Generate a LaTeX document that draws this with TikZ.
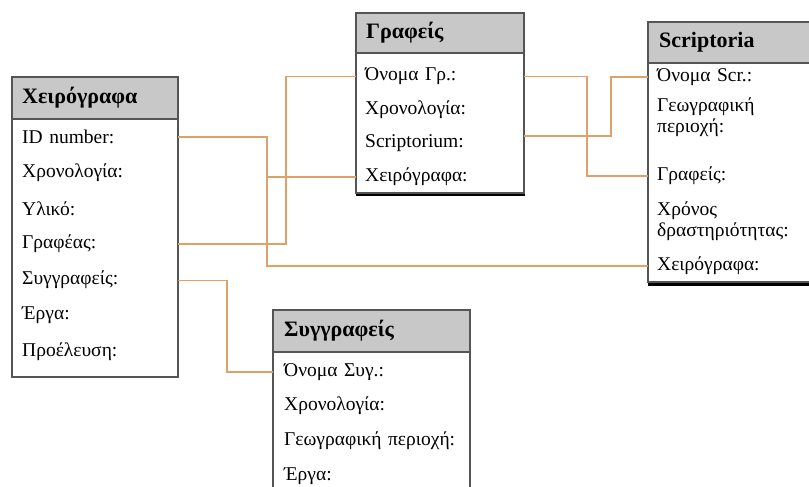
\documentclass[tikz,border=0pt]{standalone}
\usepackage{fontspec}
\setmainfont{Liberation Serif}
\definecolor{linkcol}{RGB}{222,162,104}
\definecolor{headgray}{RGB}{200,200,200}
\definecolor{framegray}{RGB}{85,85,85}

\begin{document}
\begin{tikzpicture}[x=1pt, y=-1pt,
    frame/.style={draw=framegray, line width=1.3pt},
    head/.style={anchor=west, inner sep=0pt, font=\fontsize{22}{24}\selectfont\bfseries},
    field/.style={anchor=west, inner ysep=0pt, align=left, text width=#1,
        font=\fontsize{19.5}{21.5}\selectfont},
    link/.style={draw=linkcol, line width=1.2pt}]

    \useasboundingbox (0,0) rectangle (809,487);

    % Table Xeirografa
    \draw[frame, fill=white] (12,77) rectangle (178,377);
    \draw[frame, fill=headgray] (12,77) rectangle (178,119);
    \node[head] (xhead) at (22,98) {Χειρόγραφα};
    \node[field=146, inner xsep=10pt] (xid) at (12,137) {ID number:};
    \node[field=146, inner xsep=10pt] (xch) at (12,172.7) {Χρονολογία:};
    \node[field=146, inner xsep=10pt] (xyl) at (12,208.4) {Υλικό:};
    \node[field=146, inner xsep=10pt] (xgr) at (12,244) {Γραφέας:};
    \node[field=146, inner xsep=10pt] (xsy) at (12,279.8) {Συγγραφείς:};
    \node[field=146, inner xsep=10pt] (xer) at (12,315.5) {Έργα:};
    \node[field=146, inner xsep=10pt] (xpr) at (12,351.2) {Προέλευση:};

    % Table Grafeis
    \fill[black] (356,192) rectangle (525,196);
    \draw[frame, fill=white] (356,13) rectangle (524,193);
    \draw[frame, fill=headgray] (356,13) rectangle (524,53);
    \node[head] (ghead) at (366,33) {Γραφείς};
    \node[field=150, inner xsep=9pt] (gon) at (356,76.5) {Όνομα Γρ.:};
    \node[field=150, inner xsep=9pt] (gch) at (356,110) {Χρονολογία:};
    \node[field=150, inner xsep=9pt] (gsc) at (356,143) {Scriptorium:};
    \node[field=150, inner xsep=9pt] (gcx) at (356,177) {Χειρόγραφα:};

    % Table Scriptoria
    \fill[black] (648,282) rectangle (812,286);
    \draw[frame, fill=white] (648,22) rectangle (812,282);
    \draw[frame, fill=headgray] (648,22) rectangle (812,63);
    \node[head] (shead) at (659,42) {Scriptoria};
    \node[field=146, inner xsep=9pt] (son) at (648,77) {Όνομα Scr.:};
    \node[field=146, inner xsep=9pt] (sge) at (648,117) {Γεωγραφική\\περιοχή:};
    \node[field=146, inner xsep=9pt] (sgr) at (648,176) {Γραφείς:};
    \node[field=146, inner xsep=9pt] (srx) at (648,221) {Χρόνος\\δραστηριότητας:};
    \node[field=146, inner xsep=9pt] (scx) at (648,266) {Χειρόγραφα:};

    % Table Syggrafeis
    \draw[frame, fill=white] (273,310) rectangle (470,500);
    \draw[frame, fill=headgray] (273,310) rectangle (470,352);
    \node[head] (yhead) at (284,331) {Συγγραφείς};
    \node[field=186, inner xsep=11pt] (yon) at (273,372) {Όνομα Συγ.:};
    \node[field=186, inner xsep=11pt] (ych) at (273,406) {Χρονολογία:};
    \node[field=186, inner xsep=11pt] (yge) at (273,441) {Γεωγραφική περιοχή:};
    \node[field=186, inner xsep=11pt] (yer) at (273,476) {Έργα:};

    % Bend points of the links
    \coordinate (bendA) at (267,0);
    \coordinate (bendB) at (286,0);
    \coordinate (bendC) at (227,0);
    \coordinate (bendD) at (587,0);
    \coordinate (bendE) at (611,0);

    % Links
    \draw[link] (xid.east) -| (bendA |- gcx.west) -- (gcx.west);
    \draw[link] (bendA |- gcx.west) |- (scx.west);
    \draw[link] (xgr.east) -| (bendB |- gon.west) -- (gon.west);
    \draw[link] ([yshift=-1pt]xsy.east) -| (bendC |- yon.west) -- (yon.west);
    \draw[link] (gon.east) -| (bendD |- sgr.west) -- (sgr.west);
    \draw[link] ([yshift=7pt]gsc.east) -| (bendE |- son.west) -- (son.west);
\end{tikzpicture}
\end{document}
